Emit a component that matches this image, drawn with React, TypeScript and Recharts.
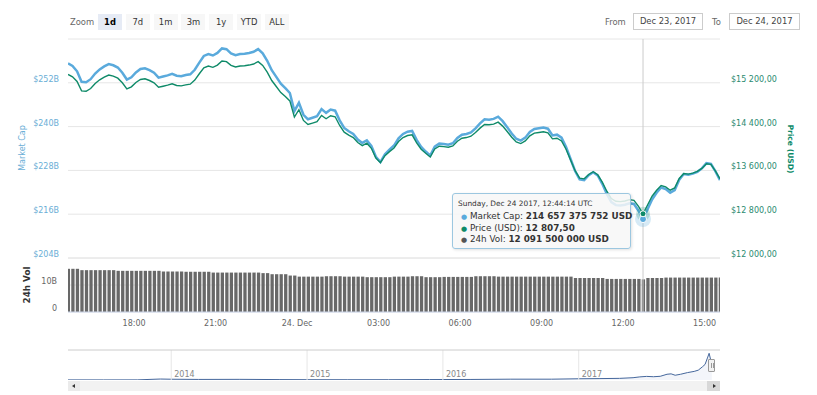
import React from "react";
import {
  ComposedChart,
  Line,
  Bar,
  Area,
  XAxis,
  YAxis,
  CartesianGrid,
  ReferenceLine,
  ReferenceDot,
} from "recharts";

const FONT = '"DejaVu Sans", Verdana, sans-serif';
const BLUE = "#5aaadc";
const GREEN = "#0e8a68";
const BAR = "#686868";
const GRID = "#e6e6e6";

// 10-minute samples, Dec 23 15:34 UTC -> Dec 24 15:34 UTC (minutes from Dec 24 00:00)
const START_MIN = -506;
const STEP_MIN = 10;

const price = [
  15353, 15310, 15224, 15052, 15046, 15095, 15187, 15255, 15304, 15341,
  15322, 15285, 15200, 15089, 15126, 15206, 15261, 15273, 15242, 15200,
  15120, 15138, 15157, 15181, 15151, 15144, 15163, 15175, 15249, 15365,
  15475, 15506, 15482, 15524, 15598, 15586, 15518, 15488, 15506, 15512,
  15524, 15543, 15586, 15518, 15396, 15242, 15132, 15022, 14948, 14869,
  14574, 14709, 14513, 14439, 14464, 14489, 14605, 14544, 14599, 14580,
  14421, 14298, 14243, 14200, 14108, 14053, 14096, 14004, 13826, 13741,
  13869, 13943, 14010, 14127, 14200, 14237, 14249, 14102, 13986, 13912,
  13845, 13992, 14041, 14035, 14023, 14047, 14133, 14188, 14200, 14225,
  14292, 14372, 14439, 14433, 14446, 14482, 14409, 14311, 14206, 14121,
  14090, 14139, 14231, 14280, 14292, 14305, 14286, 14176, 14188, 14139,
  13986, 13790, 13594, 13459, 13446, 13526, 13575, 13520, 13385, 13220,
  13085, 13036, 13030, 13042, 13066, 13054, 12944, 12807.5, 12968, 13128,
  13238, 13324, 13299, 13238, 13281, 13453, 13544, 13532, 13551, 13581,
  13636, 13722, 13710, 13587, 13446,
];

// market cap, billions USD
const marketCap = [
  257.32, 256.6, 255.15, 252.27, 252.17, 252.99, 254.53, 255.67, 256.5, 257.12,
  256.8, 256.18, 254.75, 252.89, 253.51, 254.85, 255.77, 255.98, 255.46, 254.75,
  253.41, 253.71, 254.03, 254.43, 253.93, 253.81, 254.13, 254.33, 255.57, 257.52,
  259.36, 259.88, 259.48, 260.18, 261.42, 261.22, 260.08, 259.58, 259.88, 259.98,
  260.18, 260.5, 261.22, 260.08, 258.04, 255.46, 253.61, 251.77, 250.53, 249.2,
  244.26, 246.52, 243.24, 242.0, 242.42, 242.84, 244.78, 243.76, 244.68, 244.36,
  241.7, 239.63, 238.71, 237.99, 236.45, 235.53, 236.25, 234.71, 231.72, 230.3,
  232.44, 233.68, 234.81, 236.77, 237.99, 238.61, 238.81, 236.35, 234.41, 233.17,
  232.04, 234.51, 235.33, 235.23, 235.03, 235.43, 236.87, 237.79, 237.99, 238.41,
  239.53, 240.87, 242.0, 241.9, 242.11, 242.72, 241.5, 239.85, 238.09, 236.67,
  236.15, 236.97, 238.51, 239.33, 239.53, 239.75, 239.43, 237.59, 237.79, 236.97,
  234.41, 231.12, 227.84, 225.57, 225.35, 226.7, 227.52, 226.6, 224.33, 221.57,
  219.3, 218.48, 218.38, 218.58, 218.99, 218.79, 216.94, 214.657375752, 217.34, 220.03,
  221.87, 223.31, 222.89, 221.87, 222.59, 225.47, 227.0, 226.8, 227.11, 227.62,
  228.54, 229.98, 229.78, 227.72, 225.35,
];

// 24h volume, billions USD
const volume = [
  16.0, 16.0, 16.0, 15.5, 15.5, 15.5, 15.5, 15.5, 15.5, 15.5,
  15.5, 15.25, 15.25, 15.25, 15.25, 15.25, 15.25, 15.25, 15.25, 15.25,
  15.25, 15.0, 15.0, 15.0, 15.0, 15.0, 14.9, 14.9, 14.9, 14.9,
  14.9, 14.9, 14.6, 14.6, 14.6, 14.6, 14.6, 14.6, 14.6, 14.6,
  14.6, 14.6, 14.6, 14.4, 14.4, 14.0, 14.0, 14.0, 14.0, 13.5,
  13.5, 13.1, 13.1, 13.1, 13.1, 13.1, 13.1, 13.25, 13.25, 13.25,
  13.25, 13.1, 13.1, 13.1, 13.1, 13.1, 12.9, 12.9, 12.9, 12.9,
  12.9, 12.9, 13.1, 13.1, 13.1, 13.1, 13.25, 13.25, 13.25, 12.9,
  12.9, 12.9, 12.9, 13.0, 13.0, 13.0, 13.0, 13.0, 13.0, 13.0,
  13.25, 13.25, 13.25, 13.25, 13.25, 13.1, 13.1, 13.1, 13.1, 13.1,
  13.1, 13.1, 13.1, 13.1, 13.1, 13.1, 13.1, 13.1, 13.1, 13.1,
  13.1, 13.1, 12.6, 12.6, 12.6, 12.6, 12.6, 12.6, 12.6, 12.25,
  12.25, 12.25, 12.25, 12.25, 12.25, 12.25, 12.25, 12.0915, 12.6, 12.6,
  12.6, 12.6, 12.75, 12.75, 12.75, 12.75, 12.75, 12.75, 12.75, 12.75,
  12.75, 12.75, 12.75, 12.75, 12.75,
];

const times = price.map((_, i) => START_MIN + i * STEP_MIN);
const rows = times.map((t, i) => ({ t, price: price[i], cap: marketCap[i], vol: volume[i] }));
const T0 = times[0];
const T1 = times[times.length - 1];

const HOVER = 127;
const hoverHeader = "Sunday, Dec 24 2017, 12:44:14 UTC";

const timeTicks = [-360, -180, 0, 180, 360, 540, 720, 900];
const timeLabels = ["18:00", "21:00", "24. Dec", "03:00", "06:00", "09:00", "12:00", "15:00"];

const capTicks = [204, 216, 228, 240, 252, 264];
const priceTicks = [12000, 12800, 13600, 14400, 15200, 16000];
const volTicks = [0, 10, 20];

// navigator: whole history, market cap in billions
const navYears = [
  2013.24, 2013.5, 2013.75, 2013.92, 2014.0, 2014.2, 2014.5, 2014.8, 2015.0, 2015.3,
  2015.6, 2015.9, 2016.2, 2016.5, 2016.8, 2017.0, 2017.15, 2017.3, 2017.4, 2017.45,
  2017.5, 2017.55, 2017.6, 2017.65, 2017.68, 2017.71, 2017.75, 2017.8, 2017.85, 2017.88,
  2017.91, 2017.93, 2017.95, 2017.96, 2017.97, 2017.98,
];
const navCap = [
  1.4, 1.2, 1.6, 12, 9.5, 7, 8, 5, 4, 3.5,
  3.8, 5.5, 6.5, 10, 10, 15, 17, 20, 28, 38,
  44, 40, 45, 70, 75, 58, 70, 90, 105, 120,
  160, 190, 280, 326, 255, 230,
];
const navRows = navYears.map((x, i) => ({ x, cap: navCap[i] }));
const yearTicks = [2014, 2015, 2016, 2017];

const zoomButtons = ["1d", "7d", "1m", "3m", "1y", "YTD", "ALL"];

const group = (s: string) => s.replace(/\B(?=(\d{3})+(?!\d))/g, " ");
const fmtUsd = (b: number) => group(String(Math.round(b * 1e9)));
const fmtPrice = (v: number) => {
  const [a, d] = v.toFixed(2).split(".");
  return `${group(a)},${d}`;
};

const CapTick = (p: any) =>
  p.payload.value === 264 ? <g /> : (
    <text x={p.x - 9} y={p.y - 1} textAnchor="end" fontSize={8} fill="#6aaed6">
      ${p.payload.value}B
    </text>
  );

const PriceTick = (p: any) =>
  p.payload.value === 16000 ? <g /> : (
    <text x={p.x + 11} y={p.y - 1} textAnchor="start" fontSize={8} fill="#2a8a70">
      ${group(String(p.payload.value))},00
    </text>
  );

const VolTick = (p: any) =>
  p.payload.value === 20 ? <g /> : (
    <text x={p.x - 11} y={p.y - 1} textAnchor="end" fontSize={8} fill="#666">
      {p.payload.value === 0 ? "0" : `${p.payload.value}B`}
    </text>
  );

const TimeTick = (p: any) => (
  <text x={p.x} y={p.y + 14} textAnchor="middle" fontSize={8} fill="#666">
    {timeLabels[timeTicks.indexOf(p.payload.value)]}
  </text>
);

const yearLabel = (yr: number) => (p: any) => (
  <text x={p.viewBox.x + 3} y={p.viewBox.y + p.viewBox.height - 3} fontSize={8} fill="#888">
    {yr}
  </text>
);

const abs = (left: number, top: number, extra: React.CSSProperties = {}): React.CSSProperties => ({
  position: "absolute",
  left,
  top,
  ...extra,
});

export default function App() {
  const h = rows[HOVER];
  return (
    <div
      style={{
        position: "fixed",
        left: 0,
        top: 0,
        width: 817,
        height: 395,
        background: "#fff",
        overflow: "hidden",
        fontFamily: FONT,
      }}
    >
      {/* range selector */}
      <div style={abs(70, 15, { fontSize: 8.4, color: "#666", lineHeight: "14px" })}>Zoom</div>
      {zoomButtons.map((b, i) => (
        <div
          key={b}
          style={abs(98 + i * 27.8, 14, {
            width: 24,
            height: 16,
            lineHeight: "16px",
            textAlign: "center",
            fontSize: 8.4,
            background: i === 0 ? "#e6ebf5" : "#f7f7f7",
            color: i === 0 ? "#000" : "#333",
            fontWeight: i === 0 ? "bold" : "normal",
          })}
        >
          {b}
        </div>
      ))}
      <div style={abs(605, 15, { fontSize: 8.4, color: "#666", lineHeight: "14px" })}>From</div>
      <div
        style={abs(633, 13, {
          width: 70,
          height: 17,
          boxSizing: "border-box",
          border: "1px solid #cccccc",
          fontSize: 8.4,
          color: "#444",
          lineHeight: "15px",
          textAlign: "center",
        })}
      >
        Dec 23, 2017
      </div>
      <div style={abs(712, 15, { fontSize: 8.4, color: "#666", lineHeight: "14px" })}>To</div>
      <div
        style={abs(729, 13, {
          width: 71,
          height: 17,
          boxSizing: "border-box",
          border: "1px solid #cccccc",
          fontSize: 8.4,
          color: "#444",
          lineHeight: "15px",
          textAlign: "center",
        })}
      >
        Dec 24, 2017
      </div>

      {/* main pane */}
      <div style={abs(0, 0)}>
        <ComposedChart width={817} height={260} data={rows} margin={{ top: 39, right: 0, bottom: 2, left: 0 }}>
          <CartesianGrid yAxisId="cap" vertical={false} stroke={GRID} />
          <XAxis dataKey="t" type="number" domain={[T0, T1]} hide allowDataOverflow />
          <YAxis
            yAxisId="cap"
            orientation="left"
            width={68}
            domain={[204, 264]}
            ticks={capTicks}
            interval={0}
            axisLine={false}
            tickLine={false}
            tickSize={0}
            tickMargin={0}
            tick={<CapTick />}
            allowDataOverflow
          />
          <YAxis
            yAxisId="price"
            orientation="right"
            width={97}
            domain={[12000, 16000]}
            ticks={priceTicks}
            interval={0}
            axisLine={false}
            tickLine={false}
            tickSize={0}
            tickMargin={0}
            tick={<PriceTick />}
            allowDataOverflow
          />
          <ReferenceLine yAxisId="cap" x={h.t} stroke="#cccccc" strokeWidth={1} />
          <Line
            yAxisId="cap"
            dataKey="cap"
            type="linear"
            stroke={BLUE}
            strokeWidth={2.5}
            dot={false}
            activeDot={false}
            isAnimationActive={false}
          />
          <Line
            yAxisId="price"
            dataKey="price"
            type="linear"
            stroke={GREEN}
            strokeWidth={1.4}
            dot={false}
            activeDot={false}
            isAnimationActive={false}
          />
          <ReferenceDot yAxisId="cap" x={h.t} y={h.cap} r={8} fill={BLUE} fillOpacity={0.25} stroke="none" />
          <ReferenceDot yAxisId="price" x={h.t} y={h.price} r={7} fill={GREEN} fillOpacity={0.2} stroke="none" />
          <ReferenceDot yAxisId="cap" x={h.t} y={h.cap} r={3.5} fill={BLUE} stroke="#fff" strokeWidth={1} />
          <ReferenceDot yAxisId="price" x={h.t} y={h.price} r={3} fill={GREEN} stroke="#fff" strokeWidth={1} />
        </ComposedChart>
      </div>

      {/* volume pane */}
      <div style={abs(0, 256)}>
        <ComposedChart width={817} height={78} data={rows} margin={{ top: 2, right: 97, bottom: 0, left: 0 }}>
          <CartesianGrid yAxisId="vol" vertical={false} stroke={GRID} />
          <XAxis
            dataKey="t"
            type="number"
            domain={[T0, T1]}
            ticks={timeTicks}
            interval={0}
            height={22}
            tickSize={0}
            tickMargin={0}
            tickLine={false}
            axisLine={{ stroke: "#ccd6eb" }}
            tick={<TimeTick />}
            allowDataOverflow
          />
          <YAxis
            yAxisId="vol"
            width={68}
            domain={[0, 20]}
            ticks={volTicks}
            interval={0}
            axisLine={false}
            tickLine={false}
            tickSize={0}
            tickMargin={0}
            tick={<VolTick />}
            allowDataOverflow
          />
          <ReferenceLine yAxisId="vol" x={h.t} stroke="#cccccc" strokeWidth={1} />
          <Bar yAxisId="vol" dataKey="vol" fill={BAR} barSize={3.3} isAnimationActive={false} />
        </ComposedChart>
      </div>

      {/* navigator */}
      <div style={abs(0, 348)}>
        <ComposedChart width={817} height={34} data={navRows} margin={{ top: 2, right: 97, bottom: 2, left: 68 }}>
          <XAxis dataKey="x" type="number" domain={[2013.24, 2018.04]} hide allowDataOverflow />
          <YAxis domain={[0, 366]} hide allowDataOverflow />
          {yearTicks.map((yr) => (
            <ReferenceLine key={yr} x={yr} stroke={GRID} label={yearLabel(yr)} />
          ))}
          <ReferenceLine y={366} stroke="#cccccc" />
          <Area
            dataKey="cap"
            type="linear"
            stroke="#45679c"
            strokeWidth={1}
            fill="#335cad"
            fillOpacity={0.06}
            dot={false}
            activeDot={false}
            isAnimationActive={false}
          />
        </ComposedChart>
      </div>
      {/* navigator handle */}
      <div
        style={abs(708, 359, {
          width: 7,
          height: 13,
          boxSizing: "border-box",
          border: "1px solid #999",
          background: "#f2f2f2",
          borderRadius: 1,
        })}
      >
        <div style={abs(1.5, 3, { width: 1, height: 5, background: "#999" })} />
        <div style={abs(3.5, 3, { width: 1, height: 5, background: "#999" })} />
      </div>

      {/* scrollbar */}
      <div style={abs(68, 381, { width: 652, height: 10, background: "#f2f2f2" })} />
      <div style={abs(68, 381, { width: 12, height: 10, background: "#ebebeb" })}>
        <div
          style={abs(3.5, 2.5, {
            width: 0,
            height: 0,
            borderTop: "2.5px solid transparent",
            borderBottom: "2.5px solid transparent",
            borderRight: "3px solid #333",
          })}
        />
      </div>
      <div style={abs(707, 381, { width: 13, height: 10, background: "#d8d8d8" })}>
        <div
          style={abs(6, 2.5, {
            width: 0,
            height: 0,
            borderTop: "2.5px solid transparent",
            borderBottom: "2.5px solid transparent",
            borderLeft: "3px solid #333",
          })}
        />
      </div>

      {/* axis titles */}
      <div
        style={abs(22, 148, {
          transform: "translate(-50%, -50%) rotate(-90deg)",
          fontSize: 8,
          color: "#6aaed6",
          whiteSpace: "nowrap",
        })}
      >
        Market Cap
      </div>
      <div
        style={abs(790, 149, {
          transform: "translate(-50%, -50%) rotate(90deg)",
          fontSize: 7.6,
          fontWeight: "bold",
          color: GREEN,
          whiteSpace: "nowrap",
        })}
      >
        Price (USD)
      </div>
      <div
        style={abs(27, 285, {
          transform: "translate(-50%, -50%) rotate(-90deg)",
          fontSize: 8.8,
          fontWeight: "bold",
          color: "#333",
          whiteSpace: "nowrap",
        })}
      >
        24h Vol
      </div>

      {/* tooltip */}
      <div
        style={abs(452, 193, {
          width: 179,
          height: 56,
          boxSizing: "border-box",
          background: "rgba(247,247,247,0.85)",
          border: `1px solid #9cc7e0`,
          borderRadius: 3,
          boxShadow: "1px 1px 3px rgba(0,0,0,0.12)",
          color: "#333",
          whiteSpace: "nowrap",
        })}
      >
        <div style={abs(5, 4, { fontSize: 7.4, lineHeight: "11px" })}>{hoverHeader}</div>
        <div style={abs(8, 17, { fontSize: 8.8, lineHeight: "11px" })}>
          <span style={{ color: BLUE, fontSize: 7 }}>●</span> Market Cap:{" "}
          <b>{fmtUsd(h.cap)} USD</b>
        </div>
        <div style={abs(8, 28.5, { fontSize: 8.8, lineHeight: "11px" })}>
          <span style={{ color: GREEN, fontSize: 7 }}>●</span> Price (USD): <b>{fmtPrice(h.price)}</b>
        </div>
        <div style={abs(8, 40, { fontSize: 8.8, lineHeight: "11px" })}>
          <span style={{ color: "#555", fontSize: 7 }}>●</span> 24h Vol: <b>{fmtUsd(h.vol)} USD</b>
        </div>
      </div>
    </div>
  );
}
